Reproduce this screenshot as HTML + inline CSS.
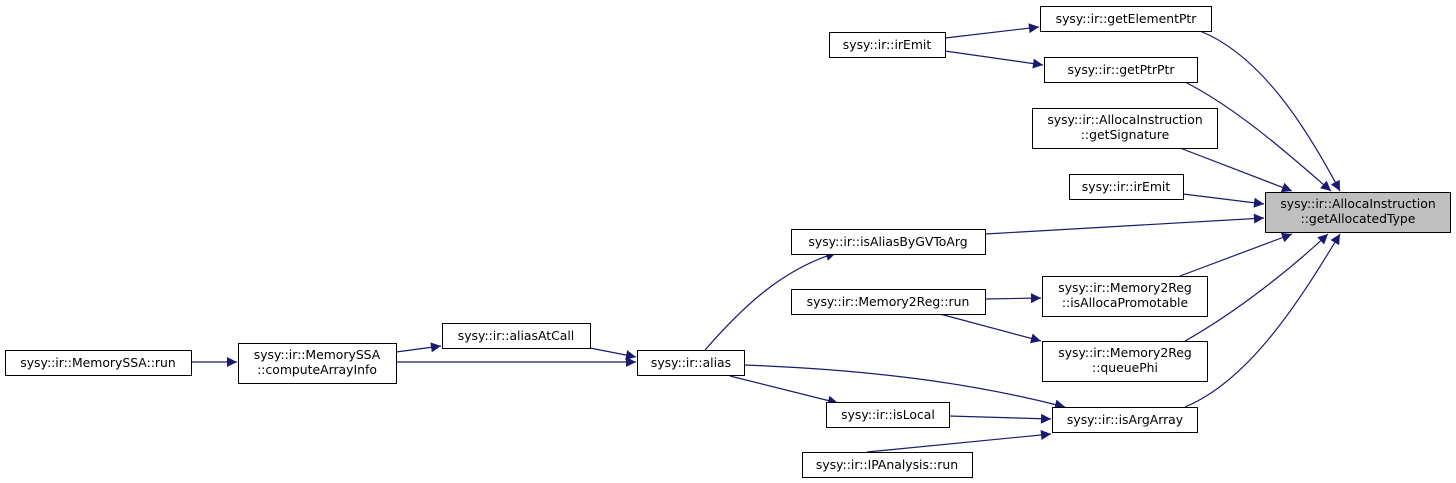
<!DOCTYPE html>
<html><head><meta charset="utf-8"><style>
html,body{margin:0;padding:0;background:#fff;}
svg{display:block;}
text{font-family:"DejaVu Sans","Liberation Sans",sans-serif;font-size:12.4px;fill:#000;}
</style></head><body>
<svg width="1456" height="483" viewBox="0 0 1456 483" xmlns="http://www.w3.org/2000/svg">
<defs><marker id="a" viewBox="0 0 10 10" refX="10" refY="5" markerWidth="12" markerHeight="10" markerUnits="userSpaceOnUse" orient="auto"><path d="M0,0 L10,5 L0,10 z" fill="#191970"/></marker></defs>
<g fill="none" stroke="#191970" stroke-width="1.2" marker-end="url(#a)">
<path d="M1200,31 C1260,55 1305,125 1340,191"/>
<path d="M1185,82 C1240,110 1295,160 1331,191"/>
<path d="M1180,148 L1292,191"/>
<path d="M1183,194 L1264,204"/>
<path d="M985,234 L1264,218"/>
<path d="M1180,276 L1292,234"/>
<path d="M1185,341 C1240,310 1295,265 1328,234"/>
<path d="M1185,407 C1250,380 1300,300 1340,234"/>
<path d="M945,38 L1039,27"/>
<path d="M945,51 L1043,65"/>
<path d="M985,299 L1041,298"/>
<path d="M940,314 L1041,341"/>
<path d="M705,350 C740,310 780,270 836,253"/>
<path d="M744,365 C880,370 980,385 1065,407"/>
<path d="M730,376 L838,403"/>
<path d="M949,416 L1051,419"/>
<path d="M867,452 L1051,434"/>
<path d="M590,348 L636,357"/>
<path d="M396,352 L441,346"/>
<path d="M396,362 L636,362"/>
<path d="M191,362 L237,362"/>
</g>
<g stroke="#000" stroke-width="1" fill="#fff">
<rect x="1265.5" y="192.5" width="185" height="40" fill="#bfbfbf"/>
<rect x="1040.5" y="6.5" width="171" height="25"/>
<rect x="829.5" y="32.5" width="116" height="25"/>
<rect x="1044.5" y="57.5" width="153" height="25"/>
<rect x="1032.5" y="108.5" width="185" height="40"/>
<rect x="1069.5" y="174.5" width="114" height="25"/>
<rect x="791.5" y="229.5" width="194" height="25"/>
<rect x="791.5" y="289.5" width="194" height="25"/>
<rect x="1042.5" y="276.5" width="165" height="40"/>
<rect x="1042.5" y="341.5" width="165" height="40"/>
<rect x="442.5" y="323.5" width="148" height="25"/>
<rect x="637.5" y="350.5" width="107" height="25"/>
<rect x="238.5" y="343.5" width="158" height="40"/>
<rect x="5.5" y="350.5" width="186" height="25"/>
<rect x="826.5" y="402.5" width="123" height="25"/>
<rect x="1052.5" y="407.5" width="145" height="25"/>
<rect x="802.5" y="452.5" width="170" height="25"/>
</g>
<g text-anchor="middle">
<text x="1358" y="208">sysy::ir::AllocaInstruction</text>
<text x="1358" y="223">::getAllocatedType</text>
<text x="1126" y="23">sysy::ir::getElementPtr</text>
<text x="887" y="49">sysy::ir::irEmit</text>
<text x="1121" y="74">sysy::ir::getPtrPtr</text>
<text x="1125" y="124">sysy::ir::AllocaInstruction</text>
<text x="1125" y="139">::getSignature</text>
<text x="1126" y="191">sysy::ir::irEmit</text>
<text x="888" y="246">sysy::ir::isAliasByGVToArg</text>
<text x="888" y="306">sysy::ir::Memory2Reg::run</text>
<text x="1125" y="292">sysy::ir::Memory2Reg</text>
<text x="1125" y="307">::isAllocaPromotable</text>
<text x="1125" y="357">sysy::ir::Memory2Reg</text>
<text x="1125" y="372">::queuePhi</text>
<text x="516" y="340">sysy::ir::aliasAtCall</text>
<text x="691" y="367">sysy::ir::alias</text>
<text x="317" y="359">sysy::ir::MemorySSA</text>
<text x="317" y="374">::computeArrayInfo</text>
<text x="98" y="367">sysy::ir::MemorySSA::run</text>
<text x="888" y="419">sysy::ir::isLocal</text>
<text x="1125" y="424">sysy::ir::isArgArray</text>
<text x="887" y="469">sysy::ir::IPAnalysis::run</text>
</g>
</svg>
</body></html>
